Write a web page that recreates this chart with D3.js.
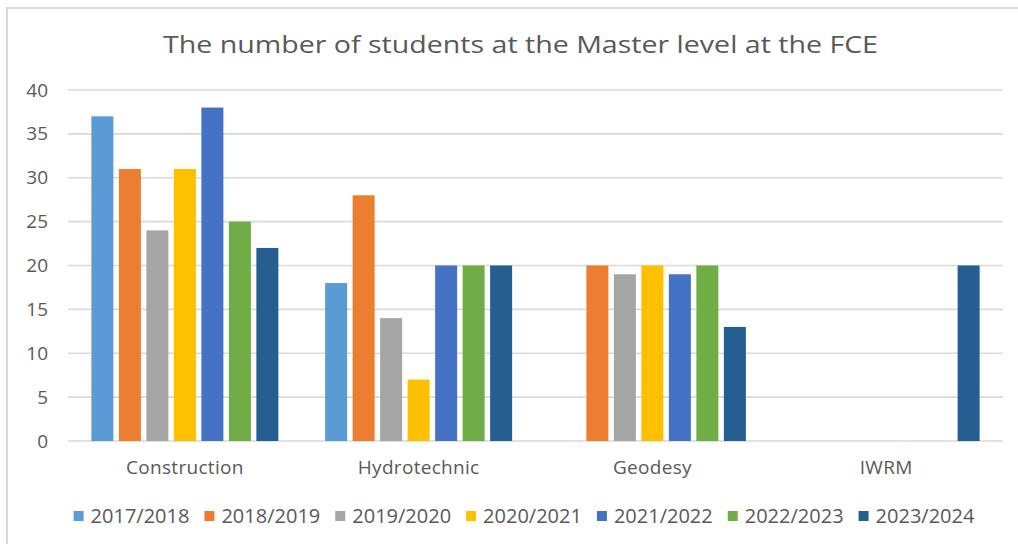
<!DOCTYPE html>
<html>
<head>
<meta charset="utf-8">
<script src="https://cdn.jsdelivr.net/npm/d3@7"></script>
<style>
  body { margin: 0; background: #fff; }
  text { font-family: "Open Sans", sans-serif; fill: #595959; }
</style>
</head>
<body>
<div id="canvas"></div>
<script>
// data
const categories = ["Construction", "Hydrotechnic", "Geodesy", "IWRM"]
const seriesNames = ["2017/2018", "2018/2019", "2019/2020", "2020/2021", "2021/2022", "2022/2023", "2023/2024"]
const y2017 = [37, 18, null, null]
const y2018 = [31, 28, 20, null]
const y2019 = [24, 14, 19, null]
const y2020 = [31, 7, 20, null]
const y2021 = [38, 20, 19, null]
const y2022 = [25, 20, 20, null]
const y2023 = [22, 20, 13, 20]
const yTicks = [0, 5, 10, 15, 20, 25, 30, 35, 40]
const colors = ["#5B9BD5", "#ED7D31", "#A5A5A5", "#FFC000", "#4472C4", "#70AD47", "#255E91"]

const allSeries = [y2017, y2018, y2019, y2020, y2021, y2022, y2023]

const W = 1018, H = 544
const margin = {top: 90, right: 15, bottom: 103, left: 68}

const svg = d3.select("#canvas")
    .append("svg")
        .attr("width", W)
        .attr("height", H)
        .style("display", "block")

// chart frame (only top + left visible in the crop)
svg.append("path")
    .attr("d", "M7," + H + " V8 H" + W)
    .attr("fill", "none")
    .attr("stroke", "#d9d9d9")
    .attr("stroke-width", 2)

svg.append("text")
    .attr("x", 163)
    .attr("y", 53)
    .attr("textLength", 715)
    .attr("lengthAdjust", "spacingAndGlyphs")
    .style("font-size", "23px")
    .text("The number of students at the Master level at the FCE")

const x0 = d3.scaleBand()
    .domain(categories)
    .range([margin.left, W - margin.right])

const x1 = d3.scaleBand()
    .domain(seriesNames)
    .range([x0.bandwidth() * 0.1, x0.bandwidth() * 0.9])
    .paddingInner(0.2)

const y = d3.scaleLinear()
    .domain([0, 40])
    .range([H - margin.bottom, margin.top])

// gridlines
svg.append("g")
    .selectAll("line")
    .data(yTicks)
    .join("line")
        .attr("x1", margin.left)
        .attr("x2", W - margin.right)
        .attr("y1", d => y(d))
        .attr("y2", d => y(d))
        .attr("stroke", "#d9d9d9")
        .attr("stroke-width", 1.6)

// y axis labels
const yAxis = svg.append("g")
    .attr("transform", "translate(" + (margin.left - 20) + ",0)")
    .call(d3.axisLeft(y).tickValues(yTicks).tickSize(0).tickPadding(0))
yAxis.select(".domain").remove()
yAxis.selectAll("text").style("font-size", "19px").attr("fill", "#595959")

// x axis labels
const xAxis = svg.append("g")
    .attr("transform", "translate(0," + y(0) + ")")
    .call(d3.axisBottom(x0).tickSize(0).tickPadding(20))
xAxis.select(".domain").remove()
xAxis.selectAll("text")
    .style("font-size", "19px")
    .style("letter-spacing", "0.3px")
    .attr("fill", "#595959")

// bars
const groups = svg.append("g")
    .selectAll("g")
    .data(allSeries)
    .join("g")
        .attr("fill", (d, i) => colors[i])

groups.each(function(vals, si) {
    d3.select(this).selectAll("rect")
        .data(vals.map((v, ci) => ({cat: categories[ci], v: v})).filter(d => d.v != null))
        .join("rect")
            .attr("x", d => x0(d.cat) + x1(seriesNames[si]))
            .attr("y", d => y(d.v))
            .attr("width", x1.bandwidth())
            .attr("height", d => y(0) - y(d.v))
})

// legend
const legend = svg.append("g")
const items = legend.selectAll("g")
    .data(seriesNames)
    .join("g")
items.append("rect")
    .attr("width", 10)
    .attr("height", 10)
    .attr("y", -5)
    .attr("fill", (d, i) => colors[i])
items.append("text")
    .attr("x", 17)
    .attr("dy", "0.35em")
    .style("font-size", "20px")
    .text(d => d)

let off = 0
items.each(function() {
    const w = this.querySelector("text").getComputedTextLength() + 17
    d3.select(this).attr("transform", "translate(" + off + ",0)")
    off += w + 15
})
off -= 15
legend.attr("transform", "translate(" + (524 - off / 2) + ",516)")
</script>
</body>
</html>
